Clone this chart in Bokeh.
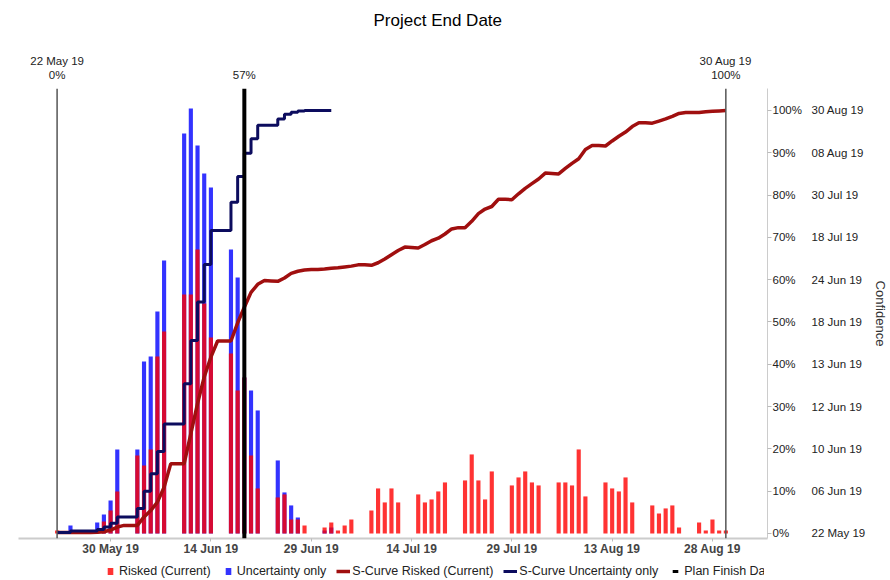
import math
import pandas as pd
from bokeh.plotting import figure
from bokeh.layouts import column
from bokeh.models import (Range1d, LinearAxis, FixedTicker, DatetimeTickFormatter,
                          Span, Legend, LegendItem, ColumnDataSource)
from bokeh.embed import file_html
from bokeh.resources import INLINE

FONT = "Liberation Sans"

# ---------------- data ----------------
bar_dates = ["2019-05-22", "2019-05-24", "2019-05-28", "2019-05-29", "2019-05-30", "2019-05-31",
             "2019-06-03", "2019-06-04", "2019-06-05", "2019-06-06", "2019-06-07",
             "2019-06-10", "2019-06-11", "2019-06-12", "2019-06-13", "2019-06-14",
             "2019-06-17", "2019-06-18", "2019-06-19", "2019-06-20", "2019-06-21",
             "2019-06-24", "2019-06-25", "2019-06-26", "2019-06-27", "2019-06-28",
             "2019-07-01", "2019-07-02", "2019-07-03", "2019-07-04", "2019-07-05",
             "2019-07-08", "2019-07-09", "2019-07-10", "2019-07-11", "2019-07-12",
             "2019-07-15", "2019-07-16", "2019-07-17", "2019-07-18", "2019-07-19",
             "2019-07-22", "2019-07-23", "2019-07-24", "2019-07-25", "2019-07-26",
             "2019-07-29", "2019-07-30", "2019-07-31", "2019-08-01", "2019-08-02",
             "2019-08-05", "2019-08-06", "2019-08-07", "2019-08-08", "2019-08-09",
             "2019-08-12", "2019-08-13", "2019-08-14", "2019-08-15", "2019-08-16",
             "2019-08-19", "2019-08-20", "2019-08-21", "2019-08-22", "2019-08-23",
             "2019-08-26", "2019-08-27", "2019-08-28", "2019-08-29", "2019-08-30"]

uncertainty_hits = [0, 8, 11, 19, 33, 84,
                    84, 172, 177, 222, 273,
                    400, 425, 388, 360, 346,
                    284, 256, 156, 143, 123,
                    73, 41, 28, 16, 0,
                    3, 6, 0, 0, 0,
                    0, 0, 0, 0, 0,
                    0, 0, 0, 0, 0,
                    0, 0, 0, 0, 0,
                    0, 0, 0, 0, 0,
                    0, 0, 0, 0, 0,
                    0, 0, 0, 0, 0,
                    0, 0, 0, 0, 0,
                    0, 0, 0, 0, 0]

risked_hits = [3, 0, 0, 12, 23, 42,
               78, 68, 84, 177, 202,
               239, 239, 284, 230, 196,
               180, 143, 156, 78, 45,
               36, 39, 14, 14, 8,
               6, 11, 3, 8, 14,
               23, 45, 31, 45, 31,
               39, 31, 34, 42, 51,
               53, 79, 53, 34, 62,
               48, 56, 62, 51, 48,
               51, 51, 48, 84, 37,
               51, 45, 42, 56, 31,
               28, 20, 25, 28, 6,
               11, 3, 14, 3, 3]

# S-curve (risked), daily from 22 May 19 to 30 Aug 19, confidence %
scurve_risked_start, scurve_risked_end = "2019-05-22", "2019-08-30"
scurve_risked_pct = [0.2, 0.2, 0.2, 0.2, 0.2, 0.2, 0.3, 0.4, 0.8, 1.5,
                     1.9, 1.9, 1.9, 3.9, 5.4, 7.4, 10.9, 16.5, 16.5, 16.5,
                     23.6, 30.7, 37.0, 41.7, 45.5, 45.5, 45.5, 49.8, 53.5, 57.0,
                     58.9, 59.8, 59.7, 59.6, 60.4, 61.5, 62.0, 62.3, 62.4, 62.4,
                     62.5, 62.7, 62.8, 63.0, 63.2, 63.5, 63.5, 63.4, 64.0, 64.9,
                     65.9, 66.9, 67.7, 67.6, 67.5, 68.3, 69.2, 69.8, 70.8, 72.0,
                     72.3, 72.3, 73.8, 75.6, 76.7, 77.3, 79.0, 79.0, 78.9, 80.3,
                     81.6,
                     82.7, 83.8, 85.2, 85.1, 85.0, 86.3, 87.5, 88.6, 90.8, 91.7,
                     91.7, 91.6, 92.8, 93.9, 94.9, 96.2, 97.1, 97.1, 97.0, 97.5,
                     98.0, 98.6, 99.3, 99.5, 99.5, 99.5, 99.7, 99.8, 99.9, 100.0]

# S-curve (uncertainty only), daily from 22 May 19 to 02 Jul 19
scurve_unc_start, scurve_unc_end = "2019-05-22", "2019-07-02"
scurve_unc_pct = [0.2, 0.2, 0.6, 0.6, 0.6, 0.6, 0.9, 1.5, 2.4, 3.9,
                  3.9, 3.9, 5.9, 10.0, 14.1, 19.4, 25.9, 25.9, 25.9, 35.4,
                  45.6, 54.7, 63.6, 71.6, 71.6, 71.6, 78.3, 84.4, 89.9, 93.3,
                  96.5, 96.5, 96.5, 98.0, 99.1, 99.6, 99.9, 100.0, 100.0, 100.0,
                  100.0, 100.0]

x_tick_dates = ["2019-05-30", "2019-06-14", "2019-06-29", "2019-07-14",
                "2019-07-29", "2019-08-13", "2019-08-28"]

conf_ticks = [0, 10, 20, 30, 40, 50, 60, 70, 80, 90, 100]
conf_dates = ["22 May 19", "06 Jun 19", "10 Jun 19", "12 Jun 19", "13 Jun 19", "18 Jun 19",
              "24 Jun 19", "18 Jul 19", "30 Jul 19", "08 Aug 19", "30 Aug 19"]

start_date, start_label = "2019-05-22", "22 May 19\n0%"
plan_date, plan_label = "2019-06-19", "57%"
end_date, end_label = "2019-08-30", "30 Aug 19\n100%"


def ms(s):
    return int(pd.Timestamp(s).value // 10**6)


DAY = 86400000

# ---------------- main figure ----------------
x0 = pd.Timestamp("2019-05-16 05:30")
x1 = pd.Timestamp("2019-09-05 05:30")

p = figure(frame_width=749, frame_height=450, x_axis_type="datetime", y_axis_location=None,
           x_range=Range1d(x0, x1), y_range=Range1d(-1.2, 105.2),
           min_border_left=18, min_border_right=0, min_border_top=0, min_border_bottom=22,
           output_backend="svg", toolbar_location=None, outline_line_color=None,
           title="Project End Date")
p.extra_y_ranges = {"hits": Range1d(-1.2 * 4.23, 105.2 * 4.23)}
p.xgrid.visible = False
p.ygrid.visible = False

p.title.align = "left"
p.title.offset = 355
p.title.text_font = FONT
p.title.text_font_size = "17px"
p.title.text_font_style = "normal"
p.title.text_color = "#000000"
p.title.standoff = 16

bars = ColumnDataSource(dict(x=pd.to_datetime(bar_dates), unc=uncertainty_hits, risk=risked_hits))
p.vbar(x="x", top="unc", width=0.62 * DAY, source=bars, y_range_name="hits",
       fill_color="#0000ff", fill_alpha=0.8, line_color=None)
p.vbar(x="x", top="risk", width=0.62 * DAY, source=bars, y_range_name="hits",
       fill_color="#ff0000", fill_alpha=0.8, line_color=None)

rx = pd.date_range(scurve_risked_start, scurve_risked_end)
ux = pd.date_range(scurve_unc_start, scurve_unc_end)
RED_LINE = "#a00f0f"
NAVY_LINE = "#0c0c5e"
p.line(rx, scurve_risked_pct, line_color=RED_LINE, line_width=3.5)
p.step(ux, scurve_unc_pct, mode="after", line_color=NAVY_LINE, line_width=3)

p.add_layout(Span(location=ms(start_date), dimension="height", line_color="#555555", line_width=1.5))
p.add_layout(Span(location=ms(end_date), dimension="height", line_color="#555555", line_width=1.5))
p.add_layout(Span(location=ms(plan_date), dimension="height", line_color="#000000", line_width=4))

# bottom axis
xa = p.xaxis[0]
xa.ticker = FixedTicker(ticks=[ms(d) for d in x_tick_dates])
fmt = "%d %b %y"
xa.formatter = DatetimeTickFormatter(days=fmt, months=fmt, years=fmt, hours=fmt,
                                     hourmin=fmt, minutes=fmt, seconds=fmt)
xa.axis_line_color = "#cccccc"
xa.axis_line_width = 2
xa.major_tick_line_color = "#bbbbbb"
xa.major_tick_out = 3
xa.major_tick_in = 0
xa.minor_tick_line_color = None
xa.major_label_text_font = FONT
xa.major_label_text_font_size = "12px"
xa.major_label_text_font_style = "bold"
xa.major_label_text_color = "#444444"
xa.major_label_standoff = 0
xa.axis_label = None

# top labels
top = LinearAxis(ticker=FixedTicker(ticks=[ms(start_date), ms(plan_date), ms(end_date)]),
                 major_label_overrides={ms(start_date): start_label,
                                        ms(plan_date): plan_label,
                                        ms(end_date): end_label})
top.axis_line_color = None
top.major_tick_line_color = None
top.minor_tick_line_color = None
top.major_tick_out = 0
top.major_tick_in = 0
top.major_label_text_font = FONT
top.major_label_text_font_size = "11.5px"
top.major_label_text_line_height = 1.12
top.major_label_text_color = "#222222"
top.major_label_standoff = 8
top.axis_label = " "
top.axis_label_text_font_size = "2px"
top.axis_label_standoff = 9
p.add_layout(top, "above")

# right axes
pct_axis = LinearAxis(ticker=FixedTicker(ticks=conf_ticks),
                      major_label_overrides={t: f"{t}%" for t in conf_ticks})
pct_axis.axis_line_color = "#cccccc"
pct_axis.major_tick_line_color = "#bbbbbb"
pct_axis.major_tick_out = 4
pct_axis.major_tick_in = 0
pct_axis.minor_tick_line_color = None
pct_axis.major_label_text_font = FONT
pct_axis.major_label_text_font_size = "11.5px"
pct_axis.major_label_text_color = "#222222"
pct_axis.major_label_standoff = 1
p.add_layout(pct_axis, "right")

date_axis = LinearAxis(ticker=FixedTicker(ticks=conf_ticks),
                       major_label_overrides={t: d for t, d in zip(conf_ticks, conf_dates)},
                       axis_label="Confidence")
date_axis.axis_line_color = None
date_axis.major_tick_line_color = None
date_axis.minor_tick_line_color = None
date_axis.major_tick_out = 0
date_axis.major_tick_in = 0
date_axis.major_label_text_font = FONT
date_axis.major_label_text_font_size = "11.5px"
date_axis.major_label_text_color = "#222222"
date_axis.major_label_standoff = 7
date_axis.axis_label_text_font = FONT
date_axis.axis_label_text_font_size = "13px"
date_axis.axis_label_text_font_style = "normal"
date_axis.axis_label_text_color = "#333333"
date_axis.axis_label_standoff = 5
p.add_layout(date_axis, "right")

# ---------------- legend strip ----------------
q = figure(width=888, height=20, x_range=Range1d(0, 1), y_range=Range1d(0, 1),
           x_axis_location=None, y_axis_location=None, min_border=0,
           output_backend="svg", toolbar_location=None, outline_line_color=None)
q.xgrid.visible = False
q.ygrid.visible = False

nan = float("nan")
r1 = q.scatter([nan], [nan], marker="dash", angle=math.pi / 2, size=12,
               line_color="#ff0000", line_alpha=0.8, line_width=7)
r2 = q.scatter([nan], [nan], marker="dash", angle=math.pi / 2, size=12,
               line_color="#0000ff", line_alpha=0.8, line_width=7)
r3 = q.line([nan, nan], [nan, nan], line_color=RED_LINE, line_width=3.5)
r4 = q.line([nan, nan], [nan, nan], line_color=NAVY_LINE, line_width=3)
r5 = q.scatter([nan], [nan], marker="dash", angle=math.pi / 2, size=11,
               line_color="#000000", line_width=3)

legend = Legend(items=[LegendItem(label="Risked (Current)", renderers=[r1]),
                       LegendItem(label="Uncertainty only", renderers=[r2]),
                       LegendItem(label="S-Curve Risked (Current)", renderers=[r3]),
                       LegendItem(label="S-Curve Uncertainty only", renderers=[r4]),
                       LegendItem(label="Plan Finish Date", renderers=[r5])],
                orientation="horizontal", location=(85, 2),
                border_line_color=None, background_fill_alpha=0,
                padding=0, margin=0, spacing=10, label_standoff=2,
                glyph_width=14, glyph_height=14, label_height=14,
                label_text_font=FONT, label_text_font_size="12.5px",
                label_text_color="#222222")
q.add_layout(legend, "center")

layout = column(p, q, spacing=0)
open("out.html", "w").write(file_html(layout, INLINE))
